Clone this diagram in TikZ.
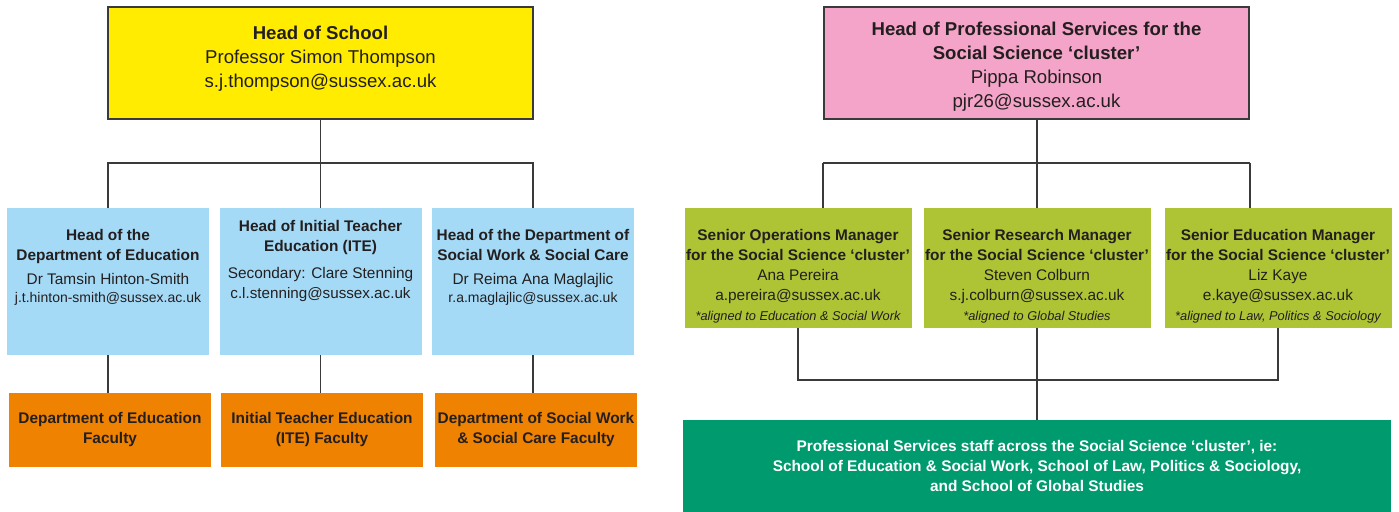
\documentclass[tikz,border=0pt]{standalone}
\usepackage{fontspec}
\setmainfont{Liberation Sans}
\usetikzlibrary{positioning,calc}

\definecolor{lineGrey}{HTML}{3A3A3A}
\definecolor{inkDark}{HTML}{231F20}
\definecolor{headYellow}{HTML}{FFEC00}
\definecolor{headPink}{HTML}{F4A4C8}
\definecolor{deptBlue}{HTML}{A5DAF6}
\definecolor{facOrange}{HTML}{EF8200}
\definecolor{mgrGreen}{HTML}{AFC435}
\definecolor{staffGreen}{HTML}{009A6F}

\newcommand{\emailsm}[1]{{\fontsize{7}{9}\selectfont #1}}
\newcommand{\alignnote}[1]{{\fontsize{6.4}{10}\selectfont\itshape #1}}

\begin{document}
\begin{tikzpicture}[
  x=0.5pt,y=-0.5pt,
  text=inkDark,
  conn/.style={draw=lineGrey,line width=0.75pt},
  headbox/.style={draw=lineGrey,line width=0.6pt,minimum width=212.5pt,minimum height=56pt,inner sep=0pt},
  deptbox/.style={fill=deptBlue,minimum width=101pt,minimum height=73.5pt,inner sep=0pt},
  facbox/.style={fill=facOrange,minimum width=101pt,minimum height=37pt,inner sep=0pt,
                 align=center,font=\fontsize{7.7}{10}\selectfont\bfseries},
  mgrbox/.style={fill=mgrGreen,minimum width=113.5pt,minimum height=60pt,inner sep=0pt},
  staffbox/.style={fill=staffGreen,minimum width=354pt,minimum height=46pt,inner sep=0pt,
                   align=center,text=white,font=\fontsize{7.7}{10}\selectfont\bfseries},
  bigtext/.style={align=center,inner sep=0pt,font=\fontsize{9.3}{12}\selectfont},
  boxtext/.style={anchor=north,align=center,inner sep=0pt,font=\fontsize{7.7}{10}\selectfont}
]
\useasboundingbox (0,0) rectangle (1399,511);

% -------------------------
% Left: School structure
% -------------------------
\node[headbox,fill=headYellow] (hos) at (320.5,63) {};
\node[bigtext] (hos-t) at (320.5,59) {\textbf{Head of School}\\
Professor Simon Thompson\\
s.j.thompson@sussex.ac.uk};

\node[deptbox] (dedu) at (108,281.5) {};
\node[deptbox] (dite) at (320.5,281.5) {};
\node[deptbox] (dswk) at (533,281.5) {};

\node[boxtext] (dedu-t) at (108,229) {\textbf{Head of the}\\
\textbf{Department of Education}\\[2pt]
Dr Tamsin Hinton-Smith\\[-1pt]
\emailsm{j.t.hinton-smith@sussex.ac.uk}};
\node[boxtext] (dite-t) at (320.5,220) {\textbf{Head of Initial Teacher}\\
\textbf{Education (ITE)}\\[3.5pt]
Secondary: Clare Stenning\\
{\fontsize{7.6}{10}\selectfont c.l.stenning@sussex.ac.uk}};
\node[boxtext] (dswk-t) at (533,229) {\textbf{Head of the Department of}\\
\textbf{Social Work \& Social Care}\\[2pt]
Dr Reima Ana Maglajlic\\[-1pt]
\emailsm{r.a.maglajlic@sussex.ac.uk}};

\node[facbox] (fedu) at (110,430) {Department of Education\\Faculty};
\node[facbox] (fite) at (322,430) {Initial Teacher Education\\(ITE) Faculty};
\node[facbox] (fswk) at (536,430) {Department of Social Work\\\& Social Care Faculty};

% -------------------------
% Right: Professional Services
% -------------------------
\node[headbox,fill=headPink] (hps) at (1036.5,63) {};
\node[bigtext] (hps-t) at (1036.5,67) {\textbf{Head of Professional Services for the}\\
\textbf{Social Science ‘cluster’}\\
Pippa Robinson\\
pjr26@sussex.ac.uk};

\node[mgrbox] (mops) at (798,268) {};
\node[mgrbox] (mres) at (1037,268) {};
\node[mgrbox] (medu) at (1278,268) {};

\node[boxtext] (mops-t) at (798,229) {\textbf{Senior Operations Manager}\\
\textbf{for the Social Science ‘cluster’}\\
Ana Pereira\\
a.pereira@sussex.ac.uk\\
\alignnote{*aligned to Education \& Social Work}};
\node[boxtext] (mres-t) at (1037,229) {\textbf{Senior Research Manager}\\
\textbf{for the Social Science ‘cluster’}\\
Steven Colburn\\
s.j.colburn@sussex.ac.uk\\
\alignnote{*aligned to Global Studies}};
\node[boxtext] (medu-t) at (1278,229) {\textbf{Senior Education Manager}\\
\textbf{for the Social Science ‘cluster’}\\
Liz Kaye\\
e.kaye@sussex.ac.uk\\
\alignnote{*aligned to Law, Politics \& Sociology}};

\node[staffbox] (pss) at (1037,466) {Professional Services staff across the Social Science ‘cluster’, ie:\\
School of Education \& Social Work, School of Law, Politics \& Sociology,\\
and School of Global Studies};

% -------------------------
% Connectors
% -------------------------
\coordinate (hosbar) at (320.5,163);
\draw[conn] (hos.south) -- (hosbar);
\draw[conn] (dedu.north) |- (hosbar) -| (dswk.north);
\draw[conn] (hosbar) -- (dite.north);

\foreach \u/\v in {dedu/fedu,dite/fite,dswk/fswk} {
  \draw[conn] (\u.south) -- (\u.south |- \v.north);
}

\coordinate (hpsbar) at (1037,163);
\coordinate (hpsbarL) at (823,163);
\coordinate (hpsbarR) at (1250,163);
\draw[conn] (hps.south -| hpsbar) -- (hpsbar);
\draw[conn] (hpsbarL) -- (hpsbarR);
\draw[conn] (hpsbarL) -- (hpsbarL |- mops.north);
\draw[conn] (hpsbar) -- (mres.north);
\draw[conn] (hpsbarR) -- (hpsbarR |- medu.north);

\coordinate (mgrbar) at (1037,380);
\draw[conn] (mops.south) |- (mgrbar) -| (medu.south);
\draw[conn] (mres.south) -- (mgrbar);
\draw[conn] (mgrbar) -- (pss.north);

\end{tikzpicture}
\end{document}
